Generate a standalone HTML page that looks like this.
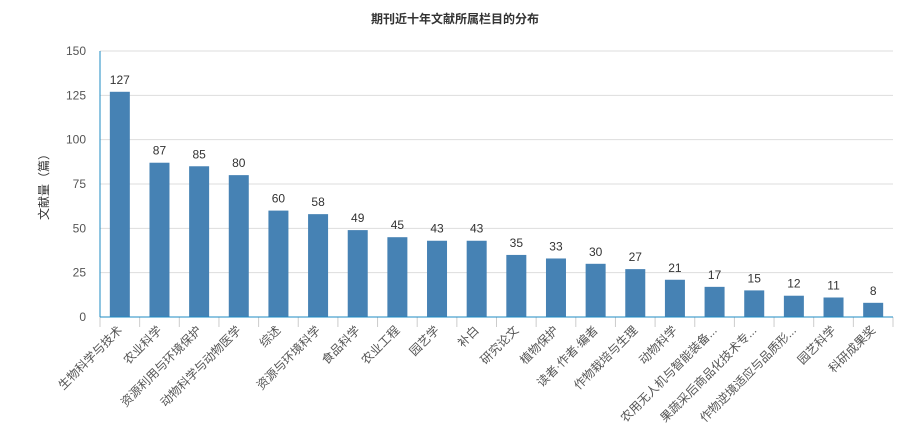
<!DOCTYPE html>
<html><head><meta charset="utf-8"><style>
body{margin:0;background:#fff;}
svg{display:block;font-family:"Liberation Sans","Noto Sans CJK SC",sans-serif;}
</style></head><body>
<svg id="c" width="911" height="445">
<text x="455" y="23" text-anchor="middle" font-size="12" font-weight="bold" fill="#333">期刊近十年文献所属栏目的分布</text>
<text transform="translate(48,184) rotate(-90)" text-anchor="middle" font-size="12" fill="#333">文献量（篇）</text>
<g id="grid"></g><g id="bars"></g><g id="axes"></g>
</svg>
<script>
const categories=["生物科学与技术","农业科学","资源利用与环境保护","动物科学与动物医学","综述","资源与环境科学","食品科学","农业工程","园艺学","补白","研究论文","植物保护","读者·作者·编者","作物栽培与生理","动物科学","农用无人机与智能装备...","果蔬采后商品化技术专...","作物逆境适应与品质形...","园艺科学","科研成果奖"];
const values=[127,87,85,80,60,58,49,45,43,43,35,33,30,27,21,17,15,12,11,8];
const yTicks=[0,25,50,75,100,125,150];
const NS="http://www.w3.org/2000/svg";
const x0=100,x1=893,yTop=51,yBot=317,yMax=150;
const n=categories.length,band=(x1-x0)/n;
const ys=v=>yBot-(v/yMax)*(yBot-yTop);
const xc=i=>x0+band*(i+0.5);
function mk(tag,attrs,parent,txt){const e=document.createElementNS(NS,tag);for(const k in attrs)e.setAttribute(k,attrs[k]);if(txt!==undefined)e.textContent=txt;document.getElementById(parent).appendChild(e);return e;}
yTicks.forEach(t=>{
  const y=ys(t);
  if(t>0){const l=mk('line',{x1:x0,x2:x1,y1:y,y2:y,stroke:'#ddd','stroke-width':1},'grid');
  
  }
  const tx=mk('text',{x:86,y:y+4,'text-anchor':'end','font-size':12,fill:'#555'},'axes',t);
  
  
});
values.forEach((v,i)=>{
  const bw=20,cx=xc(i);
  const r=mk('rect',{x:cx-bw/2,y:ys(v),width:bw,height:yBot-ys(v),fill:'#4682b4'},'bars');
  
  
  const lb=mk('text',{x:cx,y:ys(v)-8,'text-anchor':'middle','font-size':12,fill:'#333'},'bars',v);
  
  
  const cl=mk('text',{transform:`translate(${cx+3},${yBot+14}) rotate(-45)`,'text-anchor':'end','font-size':12,fill:'#555'},'axes',categories[i]);
  
  
});
for(let i=0;i<=n;i++){const x=x0+band*i;const t=mk('line',{x1:x,x2:x,y1:yBot,y2:yBot+10,stroke:'#ccc'},'axes');

}
const ax=mk('line',{x1:x0,x2:x1,y1:yBot,y2:yBot,stroke:'#1e8bc3','stroke-width':1},'axes');


const ay=mk('line',{x1:x0,x2:x0,y1:yTop,y2:yBot,stroke:'#1e8bc3','stroke-width':1},'axes');


</script>
</body></html>
